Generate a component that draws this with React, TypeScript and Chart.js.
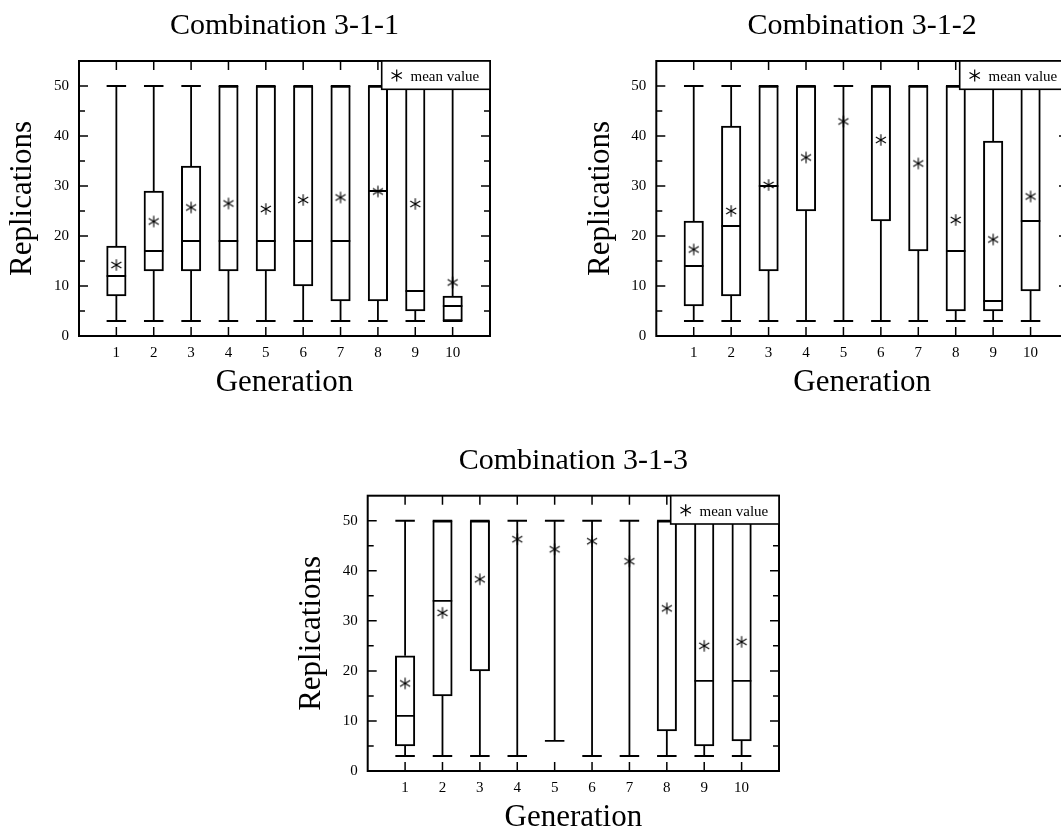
import React, { useEffect, useRef } from "react";
import { Chart, registerables } from "chart.js";

Chart.register(...registerables);

const FONT = "'Liberation Serif', 'Times New Roman', serif";

const generations = [1, 2, 3, 4, 5, 6, 7, 8, 9, 10];
const yTickValues = [0, 10, 20, 30, 40, 50];
const yMinorTicks = [5, 15, 25, 35, 45];
const legendLabel = "mean value";

// Combination 3-1-1
const min1 = [3, 3, 3, 3, 3, 3, 3, 3, 3, 3];
const q1_1 = [8, 13, 13, 13, 13, 10, 7, 7, 5, 3];
const med1 = [12, 17, 19, 19, 19, 19, 19, 29, 9, 6];
const q3_1 = [18, 29, 34, 50, 50, 50, 50, 50, 50, 8];
const max1 = [50, 50, 50, 50, 50, 50, 50, 50, 50, 50];
const mean1 = [14.2, 22.9, 25.7, 26.5, 25.4, 27.2, 27.7, 28.9, 26.4, 10.7];

// Combination 3-1-2
const min2 = [3, 3, 3, 3, 3, 3, 3, 3, 3, 3];
const q1_2 = [6, 8, 13, 25, 50, 23, 17, 5, 5, 9];
const med2 = [14, 22, 30, 50, 50, 50, 50, 17, 7, 23];
const q3_2 = [23, 42, 50, 50, 50, 50, 50, 50, 39, 50];
const max2 = [50, 50, 50, 50, 50, 50, 50, 50, 50, 50];
const mean2 = [17.3, 25.0, 30.2, 35.7, 42.9, 39.2, 34.5, 23.2, 19.3, 27.9];

// Combination 3-1-3
const min3 = [3, 3, 3, 3, 6, 3, 3, 3, 3, 3];
const q1_3 = [5, 15, 20, 50, 50, 50, 50, 8, 5, 6];
const med3 = [11, 34, 50, 50, 50, 50, 50, 50, 18, 18];
const q3_3 = [23, 50, 50, 50, 50, 50, 50, 50, 50, 50];
const max3 = [50, 50, 50, 50, 50, 50, 50, 50, 50, 50];
const mean3 = [17.5, 31.6, 38.3, 46.3, 44.3, 45.9, 41.9, 32.5, 25.0, 25.8];

const BOX_W = 19.5;

type Panel = {
  title: string;
  cx: number; cy: number; W: number; H: number;
  L: number; T: number; R: number; B: number;
  min: number[]; q1: number[]; med: number[]; q3: number[]; max: number[]; mean: number[];
};

const panels: Panel[] = [
  { title: "Combination 3-1-1", cx: 0, cy: 0, W: 530, H: 415, L: 79, T: 61, R: 490, B: 336,
    min: min1, q1: q1_1, med: med1, q3: q3_1, max: max1, mean: mean1 },
  { title: "Combination 3-1-2", cx: 577, cy: 0, W: 500, H: 415, L: 656.3, T: 61, R: 1068, B: 336,
    min: min2, q1: q1_2, med: med2, q3: q3_2, max: max2, mean: mean2 },
  { title: "Combination 3-1-3", cx: 289, cy: 435, W: 530, H: 415, L: 367.7, T: 495.7, R: 779, B: 771,
    min: min3, q1: q1_3, med: med3, q3: q3_3, max: max3, mean: mean3 },
];

function drawAsterisk(ctx: CanvasRenderingContext2D, x: number, y: number, r: number, lw: number) {
  ctx.save();
  ctx.strokeStyle = "#000";
  ctx.lineWidth = lw;
  ctx.lineCap = "butt";
  ctx.beginPath();
  [90, 30, 150].forEach((deg) => {
    const a = (deg * Math.PI) / 180;
    ctx.moveTo(x - r * Math.cos(a), y - r * Math.sin(a));
    ctx.lineTo(x + r * Math.cos(a), y + r * Math.sin(a));
  });
  ctx.stroke();
  ctx.restore();
}

function makeAsteriskCanvas(): HTMLCanvasElement {
  const c = document.createElement("canvas");
  c.width = 14;
  c.height = 14;
  const ctx = c.getContext("2d")!;
  drawAsterisk(ctx, 7, 7, 5.8, 1.1);
  return c;
}

function makePlugin(p: Panel) {
  return {
    id: "boxDecor",
    afterDatasetsDraw(chart: any) {
      const ctx: CanvasRenderingContext2D = chart.ctx;
      const xs = chart.scales.x;
      const ys = chart.scales.y;
      ctx.save();
      ctx.strokeStyle = "#000";
      ctx.lineWidth = 1.8;
      generations.forEach((g, i) => {
        const px = xs.getPixelForValue(g);
        const yMin = ys.getPixelForValue(p.min[i]);
        const yQ1 = ys.getPixelForValue(p.q1[i]);
        const yMed = ys.getPixelForValue(p.med[i]);
        const yQ3 = ys.getPixelForValue(p.q3[i]);
        const yMax = ys.getPixelForValue(p.max[i]);
        ctx.beginPath();
        ctx.moveTo(px, yQ3);
        ctx.lineTo(px, yMax);
        ctx.moveTo(px, yQ1);
        ctx.lineTo(px, yMin);
        ctx.moveTo(px - BOX_W / 2, yMax);
        ctx.lineTo(px + BOX_W / 2, yMax);
        ctx.moveTo(px - BOX_W / 2, yMin);
        ctx.lineTo(px + BOX_W / 2, yMin);
        ctx.moveTo(px - BOX_W / 2, yMed);
        ctx.lineTo(px + BOX_W / 2, yMed);
        ctx.stroke();
      });
      ctx.restore();
    },
    afterDraw(chart: any) {
      const ctx: CanvasRenderingContext2D = chart.ctx;
      const xs = chart.scales.x;
      const ys = chart.scales.y;
      const { left, right, top, bottom } = chart.chartArea;
      ctx.save();
      ctx.strokeStyle = "#000";
      ctx.lineWidth = 1.5;
      ctx.beginPath();
      generations.forEach((g) => {
        const px = xs.getPixelForValue(g);
        ctx.moveTo(px, bottom);
        ctx.lineTo(px, bottom - 9);
        ctx.moveTo(px, top);
        ctx.lineTo(px, top + 9);
      });
      yTickValues.forEach((v) => {
        const py = ys.getPixelForValue(v);
        ctx.moveTo(left, py);
        ctx.lineTo(left + 9, py);
        ctx.moveTo(right, py);
        ctx.lineTo(right - 9, py);
      });
      yMinorTicks.forEach((v) => {
        const py = ys.getPixelForValue(v);
        ctx.moveTo(left, py);
        ctx.lineTo(left + 6, py);
        ctx.moveTo(right, py);
        ctx.lineTo(right - 6, py);
      });
      ctx.stroke();
      ctx.lineWidth = 2;
      ctx.strokeRect(left, top, right - left, bottom - top);

      // legend box
      const lw = 108.3;
      const lh = 28.3;
      ctx.fillStyle = "#fff";
      ctx.fillRect(right - lw, top, lw, lh);
      ctx.lineWidth = 1.6;
      ctx.strokeRect(right - lw, top, lw, lh);
      drawAsterisk(ctx, right - 93.3, top + 14.5, 6, 1.2);
      ctx.fillStyle = "#000";
      ctx.font = `15px ${FONT}`;
      ctx.textAlign = "left";
      ctx.textBaseline = "alphabetic";
      ctx.fillText(legendLabel, right - 79.5, top + 20);
      ctx.restore();
    },
  };
}

function BoxPanel({ p, star }: { p: Panel; star: HTMLCanvasElement }) {
  const ref = useRef<HTMLCanvasElement | null>(null);
  useEffect(() => {
    if (!ref.current) return;
    const yW = p.L - p.cx;
    const topH = p.T - p.cy;
    const pr = p.cx + p.W - p.R;
    const chart = new Chart(ref.current, {
      type: "bar",
      data: {
        datasets: [
          {
            type: "scatter",
            label: legendLabel,
            data: generations.map((g, i) => ({ x: g, y: p.mean[i] })),
            pointStyle: star as any,
            pointRadius: 7,
            showLine: false,
            order: 0,
          } as any,
          {
            type: "bar",
            label: "box",
            data: generations.map((g, i) => ({ x: g, y: [p.q1[i], p.q3[i]] })) as any,
            backgroundColor: "#fff",
            borderColor: "#000",
            borderWidth: 2,
            borderSkipped: false,
            barThickness: BOX_W,
            order: 1,
          } as any,
        ],
      },
      options: {
        animation: false,
        responsive: false,
        events: [],
        layout: { padding: { left: 0, top: 0, right: pr, bottom: 0 } },
        plugins: { legend: { display: false }, tooltip: { enabled: false }, title: { display: false } },
        scales: {
          x: {
            type: "linear",
            position: "bottom",
            min: 0,
            max: 11,
            offset: false,
            grid: { display: false, drawTicks: false },
            border: { display: false },
            ticks: { color: "#000", font: { family: FONT, size: 15 }, padding: 8, autoSkip: false, maxRotation: 0 },
            afterBuildTicks: (s: any) => { s.ticks = generations.map((v) => ({ value: v })); },
            afterFit: (s: any) => { s.height = 79; },
            title: { display: true, text: "Generation", color: "#000", font: { family: FONT, size: 31 }, padding: { top: 0, bottom: 14 } },
          },
          xTop: {
            type: "linear",
            position: "top",
            min: 0,
            max: 11,
            offset: false,
            grid: { display: false, drawTicks: false },
            border: { display: false },
            ticks: { display: false },
            afterFit: (s: any) => { s.height = topH; },
            title: { display: true, text: p.title, color: "#000", font: { family: FONT, size: 30 }, padding: { top: 8.6 + (topH - 61), bottom: 0 } },
          },
          y: {
            type: "linear",
            min: 0,
            max: 55,
            grid: { display: false, drawTicks: false },
            border: { display: false },
            ticks: { color: "#000", font: { family: FONT, size: 15 }, padding: 10 },
            afterBuildTicks: (s: any) => { s.ticks = yTickValues.map((v) => ({ value: v })); },
            afterFit: (s: any) => { s.width = yW; },
            title: { display: true, text: "Replications", color: "#000", font: { family: FONT, size: 31 }, padding: { top: 4.5 + (yW - 79), bottom: 0 } },
          },
        } as any,
      },
      plugins: [makePlugin(p)],
    } as any);
    return () => chart.destroy();
  }, [p, star]);
  return (
    <canvas
      ref={ref}
      width={p.W}
      height={p.H}
      style={{ position: "absolute", left: p.cx, top: p.cy, width: p.W, height: p.H }}
    />
  );
}

export default function App() {
  const starRef = useRef<HTMLCanvasElement | null>(null);
  if (!starRef.current && typeof document !== "undefined") starRef.current = makeAsteriskCanvas();
  return (
    <div
      style={{
        position: "absolute",
        left: 0,
        top: 0,
        width: 1061,
        height: 829,
        overflow: "hidden",
        background: "#fff",
      }}
    >
      {panels.map((p) => (
        <BoxPanel key={p.title} p={p} star={starRef.current!} />
      ))}
    </div>
  );
}
